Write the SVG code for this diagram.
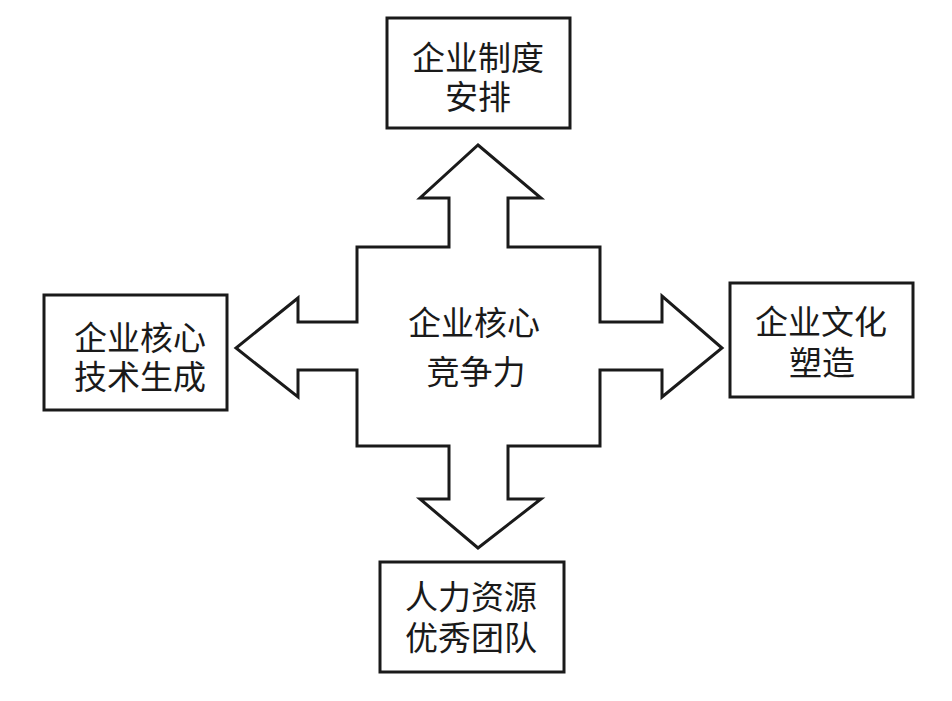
<svg xmlns="http://www.w3.org/2000/svg" width="952" height="701" viewBox="0 0 952 701">
<style>
.box{fill:#fff;stroke:#1a1a1a;stroke-width:3}
.arrow{fill:#fff;stroke:#1a1a1a;stroke-width:3;stroke-linejoin:miter}
text{font-family:"Liberation Serif","Noto Sans CJK SC",serif;font-size:33px;fill:#1a1a1a;text-anchor:middle}
</style>
<rect width="952" height="701" fill="#fff"/>
<g id="connectors">
<polygon class="arrow" points="478,145 541,198 508,198 508,247 600,247 600,322 662,322 662,296 722,348 662,397 662,370 600,370 600,446 508,446 508,499 541,499 478,548 420,499 449,499 449,446 357,446 357,370 298,370 298,397 236,348 298,298 298,322 357,322 357,247 449,247 449,198 420,198"/>
</g>
<g id="center">
<text x="474" y="335">企业核心</text>
<text x="476" y="384">竞争力</text>
</g>
<g id="top">
<rect class="box" x="387" y="18" width="183" height="110"/>
<text x="478" y="70">企业制度</text>
<text x="478" y="109">安排</text>
</g>
<g id="left">
<rect class="box" x="44" y="295" width="183" height="115"/>
<text x="140" y="350">企业核心</text>
<text x="140" y="389">技术生成</text>
</g>
<g id="right">
<rect class="box" x="730" y="283" width="183" height="114"/>
<text x="821" y="334">企业文化</text>
<text x="822" y="375">塑造</text>
</g>
<g id="bottom">
<rect class="box" x="380" y="562" width="184" height="110"/>
<text x="471" y="609">人力资源</text>
<text x="471" y="650">优秀团队</text>
</g>
</svg>
